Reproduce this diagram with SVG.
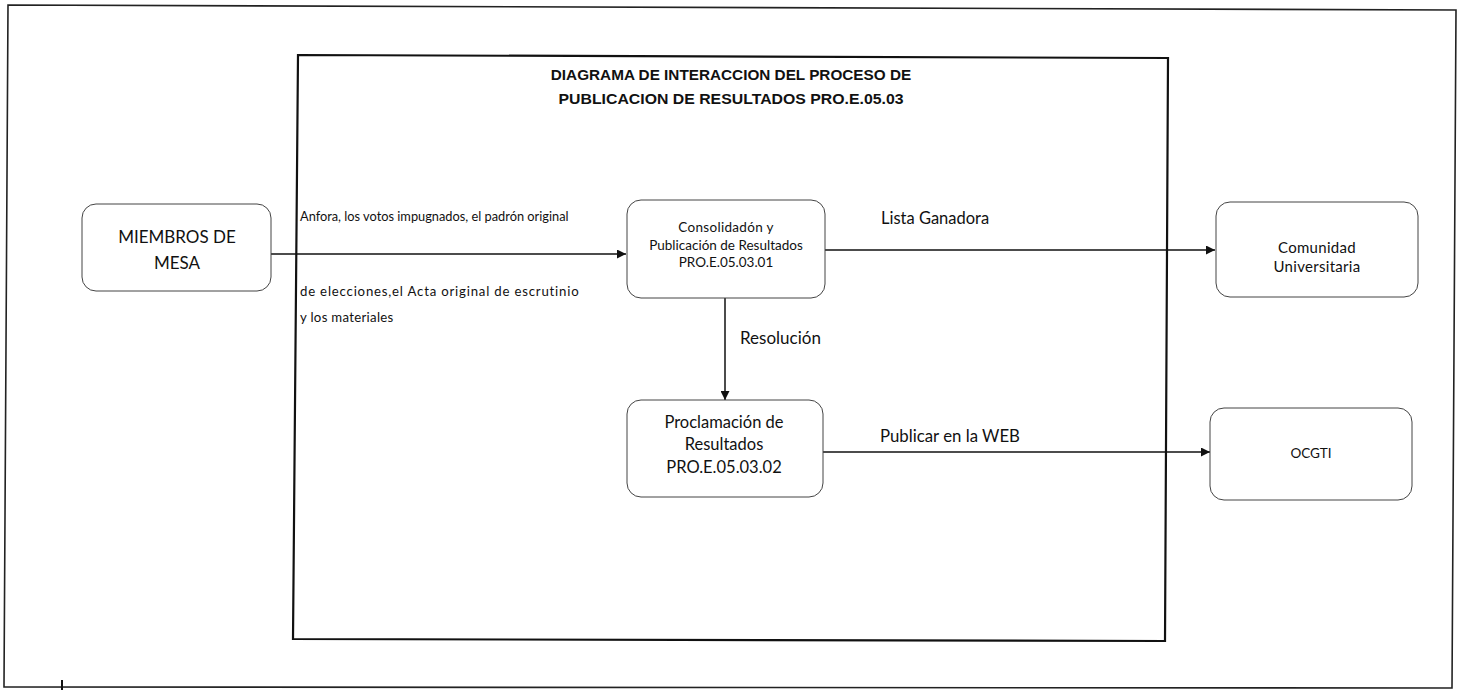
<svg xmlns="http://www.w3.org/2000/svg" width="1461" height="690" viewBox="0 0 1461 690">
<style>
.frame{fill:none;stroke:#222;stroke-width:1.6}
.inner{fill:none;stroke:#111;stroke-width:2.2}
.node{fill:#fff;stroke:#444;stroke-width:1}
.t{font-family:Lato,"Open Sans","Liberation Sans",sans-serif;fill:#111;text-anchor:middle}
.lbl{font-family:Lato,"Open Sans","Liberation Sans",sans-serif;fill:#111}
.title{font-family:"Liberation Sans",Arial,sans-serif;font-weight:bold;font-size:15.3px;fill:#111;text-anchor:middle}
.conn{stroke:#111;stroke-width:1.5;fill:none}
</style>
<defs>
<marker id="arr" viewBox="0 0 10 10" refX="10" refY="5" markerWidth="10" markerHeight="9" markerUnits="userSpaceOnUse" orient="auto">
<path d="M0,0 L10,5 L0,10 z" fill="#111"/>
</marker>
</defs>
<rect width="1461" height="690" fill="#fff"/>
<path class="frame" d="M8,5 L1456,10 L1452,688 L4,687 Z"/>
<line x1="62" y1="680" x2="62" y2="690" stroke="#111" stroke-width="2"/>
<path class="inner" d="M298,55 L1168,58 L1165,641 L293,639 Z"/>
<g id="title">
<text class="title" x="731" y="80">DIAGRAMA DE INTERACCION DEL PROCESO DE</text>
<text class="title" x="731" y="104" textLength="345" lengthAdjust="spacingAndGlyphs">PUBLICACION DE RESULTADOS PRO.E.05.03</text>
</g>
<g id="connectors">
<line class="conn" x1="271" y1="254" x2="626" y2="254" marker-end="url(#arr)"/>
<line class="conn" x1="825" y1="250" x2="1215" y2="250" marker-end="url(#arr)"/>
<line class="conn" x1="725" y1="298" x2="725" y2="400" marker-end="url(#arr)"/>
<line class="conn" x1="823" y1="452" x2="1210" y2="452" marker-end="url(#arr)"/>
<text class="lbl" x="300" y="221" font-size="12.8">Anfora, los votos impugnados, el padrón original</text>
<text class="lbl" x="300" y="296" font-size="13.2" letter-spacing="0.8">de elecciones,el Acta original de escrutinio</text>
<text class="lbl" x="300" y="322" font-size="13.2" letter-spacing="0.3">y los materiales</text>
<text class="lbl" x="881" y="224" font-size="16.5">Lista Ganadora</text>
<text class="lbl" x="740" y="344" font-size="17">Resolución</text>
<text class="lbl" x="880" y="442" font-size="16.8">Publicar en la WEB</text>
</g>
<g id="miembros">
<rect class="node" x="82" y="204" width="189" height="87" rx="14"/>
<text class="t" x="177" y="243" font-size="17">MIEMBROS DE</text>
<text class="t" x="177" y="269" font-size="17">MESA</text>
</g>
<g id="consolidacion">
<rect class="node" x="627" y="200" width="198" height="98" rx="14"/>
<text class="t" x="726" y="232" font-size="13.5" letter-spacing="0.3">Consolidadón y</text>
<text class="t" x="726" y="250" font-size="13.5">Publicación de Resultados</text>
<text class="t" x="726" y="267" font-size="13.5">PRO.E.05.03.01</text>
</g>
<g id="proclamacion">
<rect class="node" x="627" y="400" width="196" height="97" rx="14"/>
<text class="t" x="724" y="428" font-size="16.5">Proclamación de</text>
<text class="t" x="724" y="450" font-size="16.5">Resultados</text>
<text class="t" x="724" y="473" font-size="16.5">PRO.E.05.03.02</text>
</g>
<g id="comunidad">
<rect class="node" x="1216" y="202" width="202" height="95" rx="14"/>
<text class="t" x="1317" y="253" font-size="15" letter-spacing="0.3">Comunidad</text>
<text class="t" x="1317" y="272" font-size="15" letter-spacing="0.3">Universitaria</text>
</g>
<g id="ocgti">
<rect class="node" x="1210" y="408" width="202" height="92" rx="14"/>
<text class="t" x="1311" y="458" font-size="13.5">OCGTI</text>
</g>
</svg>
